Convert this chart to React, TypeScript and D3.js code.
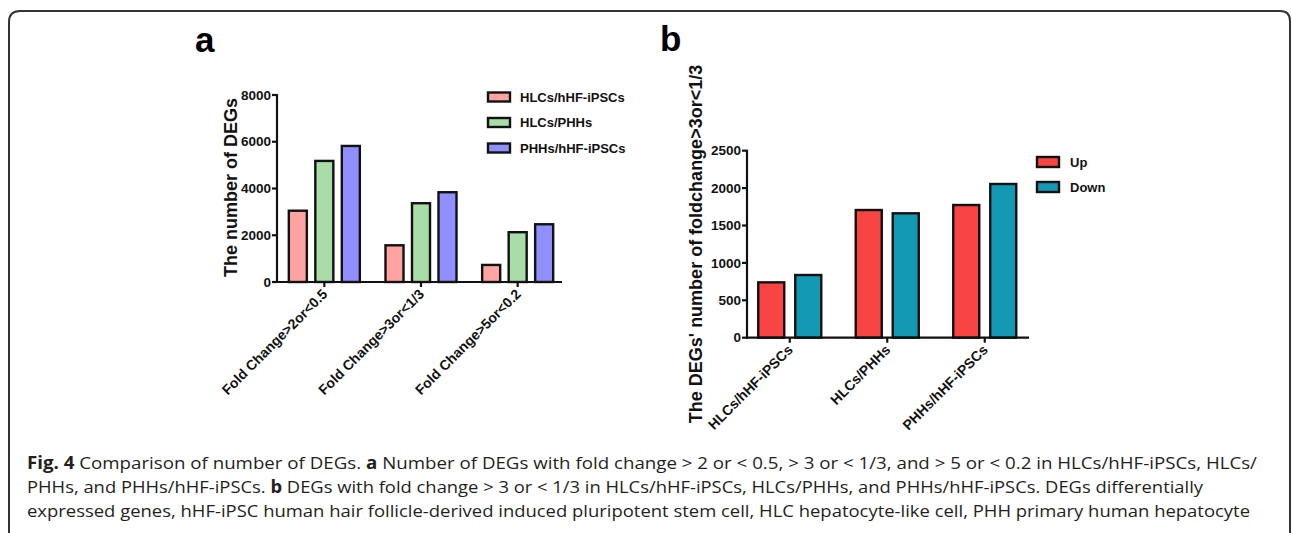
import React from "react";
import * as d3 from "d3";

// ---------- Data ----------
const catsA = ["Fold Change>2or<0.5", "Fold Change>3or<1/3", "Fold Change>5or<0.2"];
const seriesA = ["HLCs/hHF-iPSCs", "HLCs/PHHs", "PHHs/hHF-iPSCs"];
const valsHLCsiPSC = [3050, 1570, 730];
const valsHLCsPHH = [5180, 3370, 2130];
const valsPHHiPSC = [5820, 3840, 2470];
const ticksA = [0, 2000, 4000, 6000, 8000];

const catsB = ["HLCs/hHF-iPSCs", "HLCs/PHHs", "PHHs/hHF-iPSCs"];
const seriesB = ["Up", "Down"];
const valsUp = [740, 1707, 1774];
const valsDown = [838, 1663, 2055];
const ticksB = [0, 500, 1000, 1500, 2000, 2500];

const colorsA = ["#FFA3A3", "#A8DDA8", "#8F8FFF"];
const colorsB = ["#F94444", "#1399B3"];

const FONT = "'Liberation Sans', Arial, Helvetica, sans-serif";
const CAP_FONT = "'Open Sans', 'Noto Sans', sans-serif";

export default function App() {
  // ---- Chart a ----
  const yA = d3.scaleLinear().domain([0, 8000]).range([282, 95]);
  const xA = d3.scaleBand<string>().domain(catsA).range([276, 566]);
  const xAi = d3.scaleBand<string>().domain(seriesA).range([0, 79.5]).paddingInner(0.32).paddingOuter(0.16);
  const dataA = [valsHLCsiPSC, valsHLCsPHH, valsPHHiPSC];

  // ---- Chart b ----
  const yB = d3.scaleLinear().domain([0, 2500]).range([337.7, 150.7]);
  const xB = d3.scaleBand<string>().domain(catsB).range([741, 1033.5]);
  const xBi = d3.scaleBand<string>().domain(seriesB).range([0, 74]).paddingInner(0.297).paddingOuter(0.1485);
  const dataB = [valsUp, valsDown];

  const axisStroke = 2.2;

  return (
    <svg width={1292} height={533} style={{ position: "absolute", left: 0, top: 0, background: "#fff" }}>
      <rect x={0} y={0} width={1292} height={533} fill="#fff" />
      {/* frame */}
      <path d="M9,533 L9,22 Q9,11 20,11 L1280,11 Q1290,11 1290,21 L1290,533" fill="none" stroke="#333" strokeWidth={2} />

      {/* panel titles */}
      <text x={195} y={52} fontFamily={FONT} fontWeight="bold" fontSize={35}>a</text>
      <text x={660} y={51} fontFamily={FONT} fontWeight="bold" fontSize={35}>b</text>

      {/* ===== Chart a ===== */}
      <g fontFamily={FONT} fontWeight="bold">
        {catsA.map((c, ci) =>
          seriesA.map((s, si) => {
            const x0 = (xA(c) as number) + xA.bandwidth() / 2 - 39.75 + (xAi(s) as number);
            const v = dataA[si][ci];
            return (
              <rect key={c + s} x={x0} y={yA(v)} width={xAi.bandwidth()} height={yA(0) - yA(v)}
                fill={colorsA[si]} stroke="#111" strokeWidth={2.4} />
            );
          })
        )}
        {/* y axis */}
        <line x1={277} x2={277} y1={yA(8000) - 1} y2={yA(0) + 1} stroke="#111" strokeWidth={axisStroke} />
        {ticksA.map((t) => (
          <g key={t}>
            <line x1={272} x2={277} y1={yA(t)} y2={yA(t)} stroke="#111" strokeWidth={axisStroke} />
            <text x={271} y={yA(t) + 4.7} textAnchor="end" fontSize={13.5} fill="#111">{t}</text>
          </g>
        ))}
        {/* x axis */}
        <line x1={276} x2={562} y1={yA(0)} y2={yA(0)} stroke="#111" strokeWidth={axisStroke} />
        {catsA.map((c) => {
          const cx = (xA(c) as number) + xA.bandwidth() / 2;
          return (
            <g key={c}>
              <line x1={cx} x2={cx} y1={yA(0)} y2={yA(0) + 5} stroke="#111" strokeWidth={axisStroke} />
              <text transform={`translate(${cx + 4},${yA(0) + 13}) rotate(-45)`} textAnchor="end" fontSize={14} fill="#111">{c}</text>
            </g>
          );
        })}
        <text transform={`translate(236.5,187.5) rotate(-90)`} textAnchor="middle" fontSize={18} fill="#111">The number of DEGs</text>
        {/* legend a */}
        {seriesA.map((s, si) => {
          const cy = 97 + si * 25.5;
          return (
            <g key={s}>
              <rect x={488} y={cy - 4.5} width={22} height={9} fill={colorsA[si]} stroke="#111" strokeWidth={2.4} />
              <text x={520} y={cy + 4.6} fontSize={13} fill="#111">{s}</text>
            </g>
          );
        })}
      </g>

      {/* ===== Chart b ===== */}
      <g fontFamily={FONT} fontWeight="bold">
        {catsB.map((c, ci) =>
          seriesB.map((s, si) => {
            const x0 = (xB(c) as number) + xB.bandwidth() / 2 - 37 + (xBi(s) as number);
            const v = dataB[si][ci];
            return (
              <rect key={c + s} x={x0} y={yB(v)} width={xBi.bandwidth()} height={yB(0) - yB(v)}
                fill={colorsB[si]} stroke="#111" strokeWidth={2.4} />
            );
          })
        )}
        <line x1={747} x2={747} y1={yB(2500) - 1} y2={yB(0) + 1} stroke="#111" strokeWidth={axisStroke} />
        {ticksB.map((t) => (
          <g key={t}>
            <line x1={742} x2={747} y1={yB(t)} y2={yB(t)} stroke="#111" strokeWidth={axisStroke} />
            <text x={741} y={yB(t) + 4.7} textAnchor="end" fontSize={13.5} fill="#111">{t}</text>
          </g>
        ))}
        <line x1={746} x2={1029} y1={yB(0)} y2={yB(0)} stroke="#111" strokeWidth={axisStroke} />
        {catsB.map((c) => {
          const cx = (xB(c) as number) + xB.bandwidth() / 2;
          return (
            <g key={c}>
              <line x1={cx} x2={cx} y1={yB(0)} y2={yB(0) + 5} stroke="#111" strokeWidth={axisStroke} />
              <text transform={`translate(${cx + 4},${yB(0) + 13}) rotate(-45)`} textAnchor="end" fontSize={14} fill="#111">{c}</text>
            </g>
          );
        })}
        <text transform={`translate(702,244) rotate(-90)`} textAnchor="middle" fontSize={18} fill="#111">The DEGs' number of foldchange&gt;3or&lt;1/3</text>
        {seriesB.map((s, si) => {
          const cy = 162 + si * 25;
          return (
            <g key={s}>
              <rect x={1037} y={cy - 5} width={22} height={10} fill={colorsB[si]} stroke="#111" strokeWidth={2.4} />
              <text x={1070} y={cy + 4.6} fontSize={13} fill="#111">{s}</text>
            </g>
          );
        })}
      </g>

      {/* caption */}
      <g fontFamily={CAP_FONT} fontSize={17} fill="#231f20">
        <text x={27} y={469} textLength={1230} lengthAdjust="spacingAndGlyphs">
          <tspan fontWeight="bold">Fig. 4</tspan> Comparison of number of DEGs. <tspan fontWeight="bold">a</tspan> Number of DEGs with fold change &gt; 2 or &lt; 0.5, &gt; 3 or &lt; 1/3, and &gt; 5 or &lt; 0.2 in HLCs/hHF-iPSCs, HLCs/
        </text>
        <text x={27} y={493} textLength={1176} lengthAdjust="spacingAndGlyphs">
          PHHs, and PHHs/hHF-iPSCs. <tspan fontWeight="bold">b</tspan> DEGs with fold change &gt; 3 or &lt; 1/3 in HLCs/hHF-iPSCs, HLCs/PHHs, and PHHs/hHF-iPSCs. DEGs differentially
        </text>
        <text x={27} y={517} textLength={1223} lengthAdjust="spacingAndGlyphs">
          expressed genes, hHF-iPSC human hair follicle-derived induced pluripotent stem cell, HLC hepatocyte-like cell, PHH primary human hepatocyte
        </text>
      </g>
    </svg>
  );
}
